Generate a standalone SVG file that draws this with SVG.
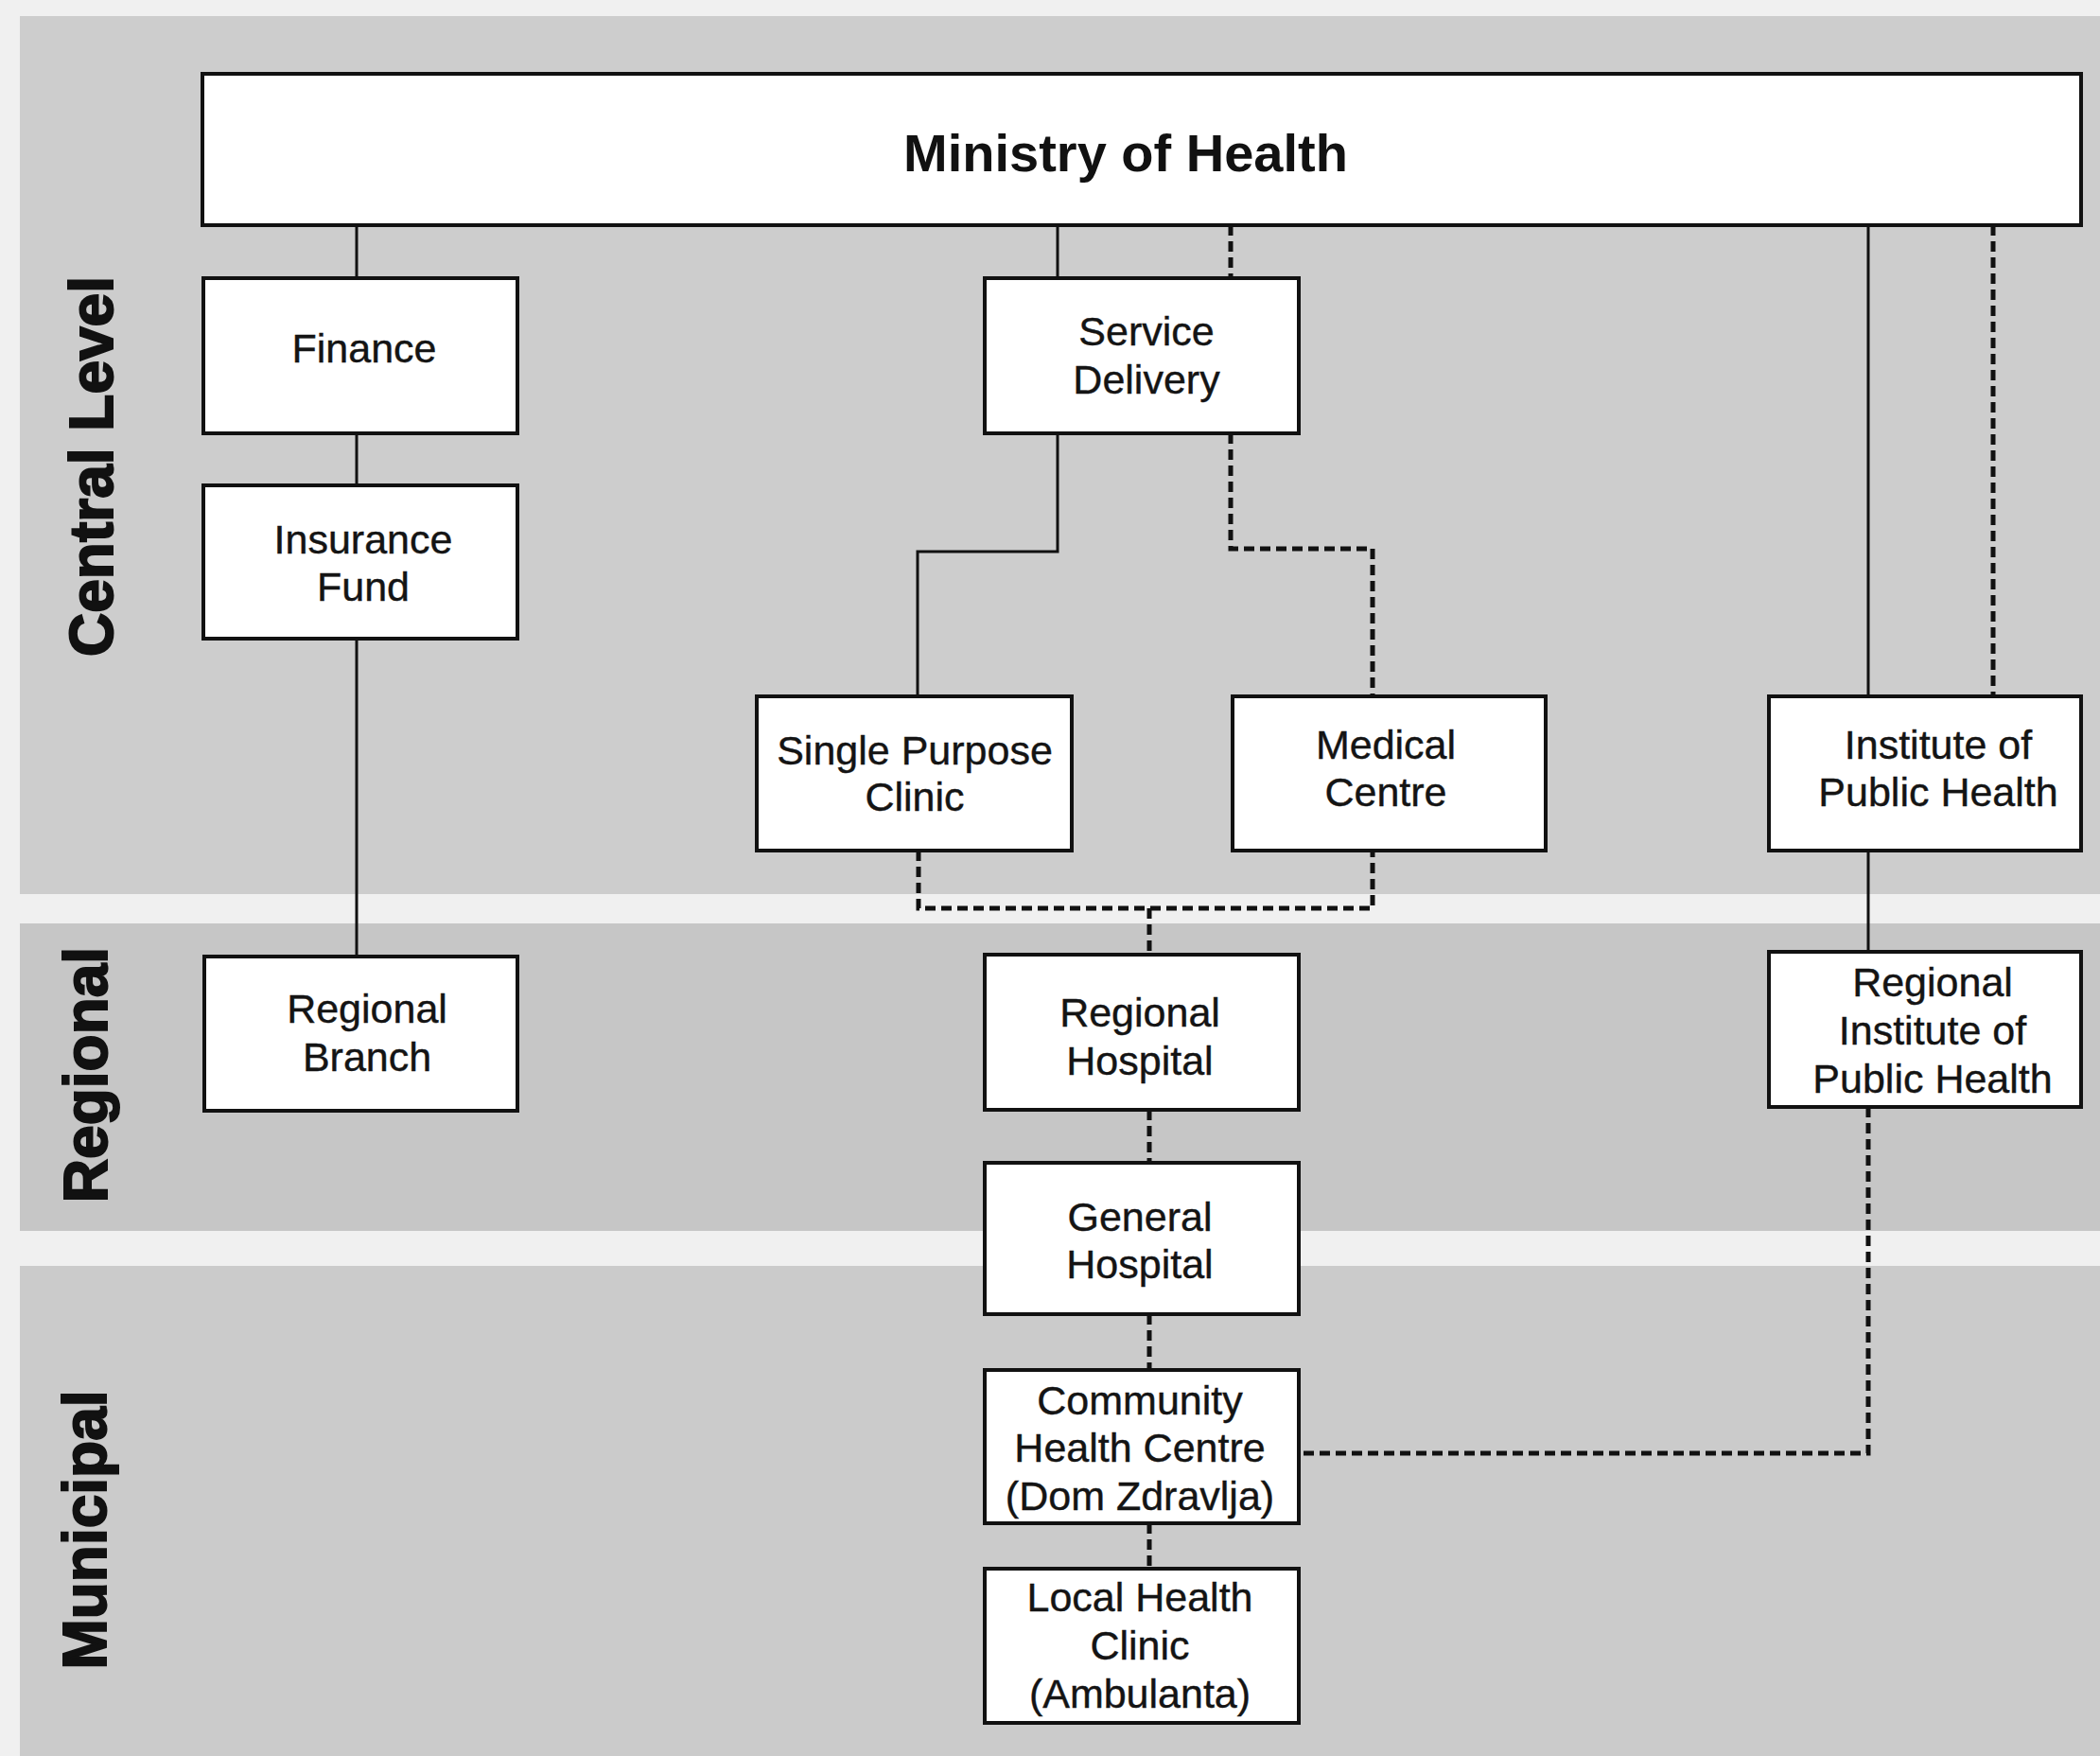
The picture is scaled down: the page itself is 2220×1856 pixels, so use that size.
<svg xmlns="http://www.w3.org/2000/svg" width="2220" height="1856" viewBox="0 0 2220 1856">
<style>
.box{fill:#ffffff;stroke:#111111;stroke-width:4}
.t{font-family:"Liberation Sans",Arial,sans-serif;font-size:43px;fill:#141414;text-anchor:middle;dominant-baseline:central;stroke:#141414;stroke-width:0.4}
.title{font-family:"Liberation Sans",Arial,sans-serif;font-size:56px;font-weight:bold;fill:#111111;text-anchor:middle;dominant-baseline:central}
.lvl{font-family:"Liberation Sans",Arial,sans-serif;font-size:64px;font-weight:bold;fill:#111111;text-anchor:middle;stroke:#111111;stroke-width:2}
.solid{fill:none;stroke:#111111;stroke-width:3}
.dash{fill:none;stroke:#111111;stroke-width:5;stroke-dasharray:11 6}
</style>
<rect x="0" y="0" width="2220" height="1856" fill="#f0f0f0"/>
<g id="bands">
<rect x="21" y="17" width="2199" height="928" fill="#cdcdcd"/>
<rect x="21" y="976" width="2199" height="325" fill="#c6c6c6"/>
<rect x="21" y="1338" width="2199" height="518" fill="#cbcbcb"/>
</g>
<g id="level-labels">
<text class="lvl" transform="translate(119,493) rotate(-90)">Central Level</text>
<text class="lvl" transform="translate(113,1136) rotate(-90)">Regional</text>
<text class="lvl" transform="translate(112,1617) rotate(-90)">Municipal</text>
</g>
<g id="connectors">
<path class="solid" d="M377 238V294M377 458V513M377 675V1011"/>
<path class="solid" d="M1118 238V294M1118 458V583H970V736"/>
<path class="solid" d="M1975 238V736M1975 899V1006"/>
<path class="dash" d="M1301 238V294"/>
<path class="dash" d="M1301 458V580H1451V736"/>
<path class="dash" d="M2107 238V736"/>
<path class="dash" d="M971 899V960H1451V899"/>
<path class="dash" d="M1215 960V1009"/>
<path class="dash" d="M1215 1173V1229M1215 1389V1448M1215 1610V1658"/>
<path class="dash" d="M1975 1170V1536H1373"/>
</g>
<g id="ministry">
<rect class="box" x="214" y="78" width="1986" height="160"/>
<text class="title" x="1190" y="161">Ministry of Health</text>
</g>
<g id="finance">
<rect class="box" x="215" y="294" width="332" height="164"/>
<text class="t" x="385" y="368">Finance</text>
</g>
<g id="insurance-fund">
<rect class="box" x="215" y="513" width="332" height="162"/>
<text class="t" x="384" y="570">Insurance</text>
<text class="t" x="384" y="620">Fund</text>
</g>
<g id="regional-branch">
<rect class="box" x="216" y="1011" width="331" height="163"/>
<text class="t" x="388" y="1066">Regional</text>
<text class="t" x="388" y="1117">Branch</text>
</g>
<g id="service-delivery">
<rect class="box" x="1041" y="294" width="332" height="164"/>
<text class="t" x="1212" y="350">Service</text>
<text class="t" x="1212" y="401">Delivery</text>
</g>
<g id="single-purpose-clinic">
<rect class="box" x="800" y="736" width="333" height="163"/>
<text class="t" x="967" y="793">Single Purpose</text>
<text class="t" x="967" y="842">Clinic</text>
</g>
<g id="medical-centre">
<rect class="box" x="1303" y="736" width="331" height="163"/>
<text class="t" x="1465" y="787">Medical</text>
<text class="t" x="1465" y="837">Centre</text>
</g>
<g id="institute-public-health">
<rect class="box" x="1870" y="736" width="330" height="163"/>
<text class="t" x="2049" y="787">Institute of</text>
<text class="t" x="2049" y="837">Public Health</text>
</g>
<g id="regional-hospital">
<rect class="box" x="1041" y="1009" width="332" height="164"/>
<text class="t" x="1205" y="1070">Regional</text>
<text class="t" x="1205" y="1121">Hospital</text>
</g>
<g id="regional-institute-public-health">
<rect class="box" x="1870" y="1006" width="330" height="164"/>
<text class="t" x="2043" y="1038">Regional</text>
<text class="t" x="2043" y="1089">Institute of</text>
<text class="t" x="2043" y="1140">Public Health</text>
</g>
<g id="general-hospital">
<rect class="box" x="1041" y="1229" width="332" height="160"/>
<text class="t" x="1205" y="1286">General</text>
<text class="t" x="1205" y="1336">Hospital</text>
</g>
<g id="community-health-centre">
<rect class="box" x="1041" y="1448" width="332" height="162"/>
<text class="t" x="1205" y="1480">Community</text>
<text class="t" x="1205" y="1530">Health Centre</text>
<text class="t" x="1205" y="1581">(Dom Zdravlja)</text>
</g>
<g id="local-health-clinic">
<rect class="box" x="1041" y="1658" width="332" height="163"/>
<text class="t" x="1205" y="1688">Local Health</text>
<text class="t" x="1205" y="1739">Clinic</text>
<text class="t" x="1205" y="1790">(Ambulanta)</text>
</g>
</svg>
